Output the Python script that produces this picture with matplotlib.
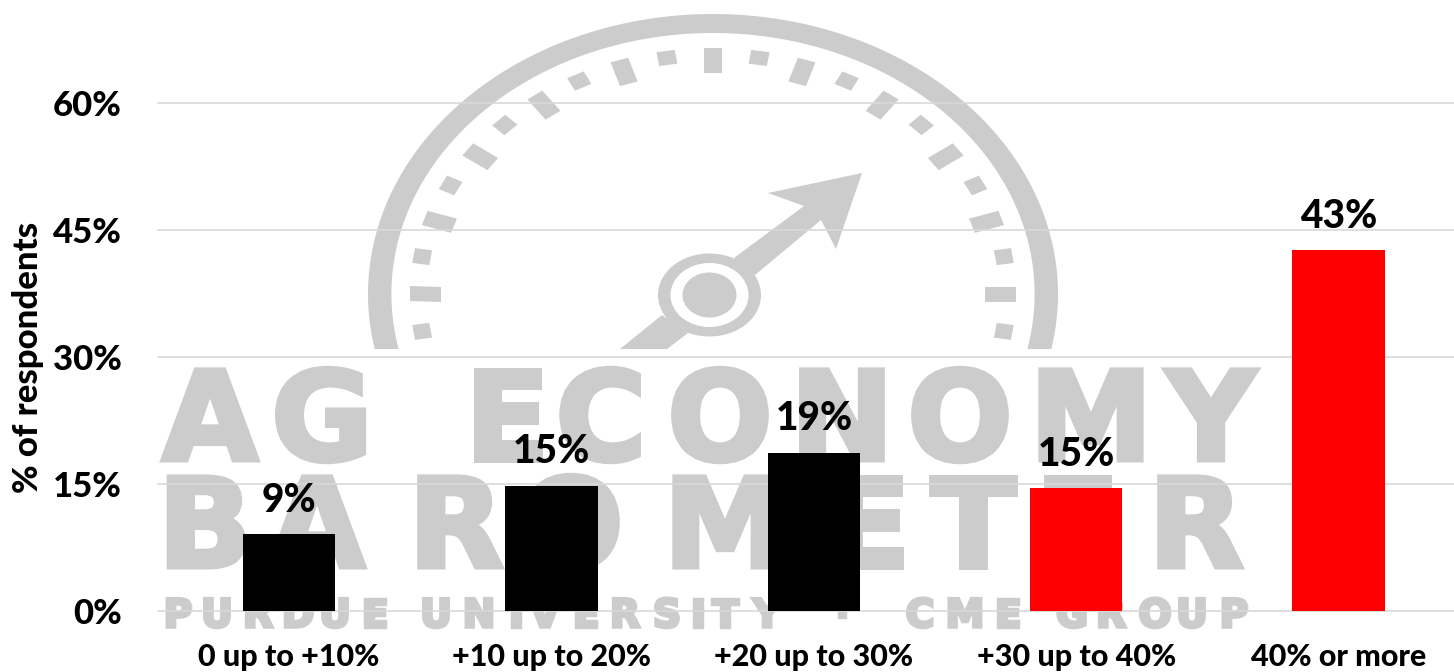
import numpy as np
import matplotlib
matplotlib.use("Agg")
import matplotlib.pyplot as plt
import matplotlib.patheffects as pe
from matplotlib.patches import Ellipse, Polygon

categories = ["0 up to +10%", "+10 up to 20%", "+20 up to 30%", "+30 up to 40%", "40% or more"]
values = [9.1, 14.8, 18.7, 14.5, 42.6]
value_labels = ["9%", "15%", "19%", "15%", "43%"]
bar_colors = ["black", "black", "black", "red", "red"]
y_ticks = [0, 15, 30, 45, 60]
y_tick_labels = ["0%", "15%", "30%", "45%", "60%"]

W, H = 1454, 672
GREY = "#cccccc"
plt.rcParams["font.family"] = ["Lato", "DejaVu Sans"]
plt.rcParams["font.weight"] = "bold"

fig = plt.figure(figsize=(W / 100, H / 100), dpi=100)

# watermark goes in its own axes, pixel coordinates
bg = fig.add_axes([0, 0, 1, 1])
bg.set_xlim(0, W)
bg.set_ylim(H, 0)
bg.axis("off")

cx, cy = 713, 294
sx = 345 / 280


def ring_points(r, a0, a1):
    t = np.radians(np.linspace(a0, a1, 200))
    return np.c_[cx + sx * r * np.cos(t), cy - r * np.sin(t)]


# outer ring, cut off at y=349
cut = np.degrees(np.arcsin((cy - 349) / 280))
cut_in = np.degrees(np.arcsin((cy - 349) / 261))
ring = np.vstack([ring_points(280, cut, 180 - cut), ring_points(261, 180 - cut_in, cut_in)])
bg.add_patch(Polygon(ring, fc=GREY, ec="none"))

# gauge ticks, long every 18 deg and short between
for i in range(-1, 22):
    a = np.radians(i * 9)
    r0 = 221 if i % 2 == 0 else 232
    r1 = 246
    hw = 7.5
    u = np.array([sx * np.cos(a), -np.sin(a)])
    v = np.array([sx * np.sin(a), np.cos(a)])
    c = np.array([cx, cy])
    bg.add_patch(Polygon([c + u * r0 - v * hw, c + u * r1 - v * hw,
                          c + u * r1 + v * hw, c + u * r0 + v * hw], fc=GREY, ec="none"))

# needle
needle = [(862, 173), (768, 193), (804, 206), (734, 258), (755, 275), (821, 220), (836, 249)]
tail = [(662, 315), (620, 349), (667, 349), (688, 333)]
bg.add_patch(Polygon(needle, fc=GREY, ec="none"))
bg.add_patch(Polygon(tail, fc=GREY, ec="none"))
hub = (709.5, 295)
bg.add_patch(Ellipse(hub, 103, 83, fc=GREY, ec="none"))
bg.add_patch(Ellipse(hub, 78, 64, fc="white", ec="none"))
bg.add_patch(Ellipse(hub, 54, 45, fc=GREY, ec="none"))

# watermark letters placed one by one because of the wide spacing
line1 = list("AGECONOMY")
line1_x = [210, 322, 507, 601, 720, 842, 960, 1091, 1211]
line2 = list("BAROMETER")
line2_x = [205, 317, 456, 571, 725, 868, 973, 1077, 1196]
line3 = list("PURDUEUNIVERSITY·CMEGROUP")
line3_x = [178, 217, 258, 298, 335, 375, 436, 479, 516, 545, 586, 625, 667, 698, 725,
           767, 842, 920, 965, 1008, 1072, 1111, 1155, 1192, 1234]


def watermark(chars, xs, base, size, stroke):
    for ch, x in zip(chars, xs):
        bg.text(x, base, ch, fontsize=size, family="DejaVu Sans", fontweight="bold", color=GREY,
                ha="center", va="baseline",
                path_effects=[pe.withStroke(linewidth=stroke, foreground=GREY, joinstyle="miter")])


watermark(line1, line1_x, 460, 89, 3.6)
watermark(line2, line2_x, 567, 89, 3.6)
watermark(line3, line3_x, 627, 28, 2.5)

# main chart
ax = fig.add_axes([158 / W, (H - 611) / H, (W - 158) / W, (611 - 103) / H])
ax.patch.set_alpha(0)
x = np.arange(len(categories))
bars = ax.bar(x, values, width=0.352, color=bar_colors, zorder=3)
ax.bar_label(bars, labels=value_labels, padding=11, fontsize=28, fontweight=900, color="black")
ax.set_xlim(-0.5, 4.44)
ax.set_ylim(0, 60)
ax.set_xticks(x, categories, fontweight=900)
ax.set_yticks(y_ticks, y_tick_labels, fontweight=900)
ax.tick_params(axis="x", length=0, pad=23, labelsize=22)
ax.tick_params(axis="y", length=0, pad=26, labelsize=25)
ax.grid(axis="y", color="#d9d9d9", lw=1.2, zorder=1)
ax.set_axisbelow(True)
for s in ax.spines.values():
    s.set_visible(False)
for line in ax.get_ygridlines():
    line.set_clip_on(False)

fig.text(28 / W, 1 - 357 / H, "% of respondents", rotation=90, fontsize=25, fontweight=900, ha="center", va="center")

fig.savefig("out.png", dpi=100)
